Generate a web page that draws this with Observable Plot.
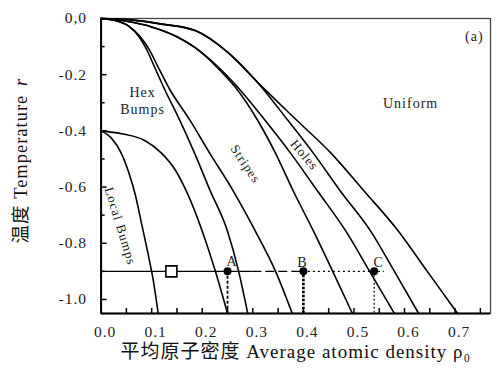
<!DOCTYPE html>
<html><head><meta charset="utf-8">
<script src="https://cdn.jsdelivr.net/npm/d3@7"></script>
<script src="https://cdn.jsdelivr.net/npm/@observablehq/plot@0.6"></script>
<style>
html,body{margin:0;padding:0;background:#fff;}
svg text{letter-spacing:1px;}
</style>
</head><body><div id="chart"></div>
<script>
// Axis ticks
const xTicks = [0, 0.1, 0.2, 0.3, 0.4, 0.5, 0.6, 0.7];
const xTickLabels = ["0.0", "0.1", "0.2", "0.3", "0.4", "0.5", "0.6", "0.7"];
const xTickMarks = [0.05, 0.1, 0.15, 0.2, 0.25, 0.3, 0.35, 0.4, 0.45, 0.5, 0.55, 0.6, 0.65, 0.7, 0.75];
const yTicks = [0, -0.2, -0.4, -0.6, -0.8, -1.0];
const yTickLabels = ["0,0", "-0.2", "-0.4", "-0.6", "-0.8", "-1.0"];
const yMinorTicks = [-0.1, -0.3, -0.5, -0.7, -0.9];

// Phase boundaries [density, temperature]
const localBumpsLeft = [[0,-0.4],[0.02,-0.425],[0.04,-0.48],[0.055,-0.55],[0.068,-0.63],[0.08,-0.73],[0.092,-0.83],[0.103,-0.93],[0.113,-1.05]];
const localBumpsRight = [[0,-0.4],[0.04,-0.41],[0.088,-0.436],[0.12,-0.48],[0.147,-0.54],[0.17,-0.62],[0.2,-0.757],[0.226,-0.9],[0.25,-1.05]];
const hexLeft = [[0,0],[0.03,-0.008],[0.055,-0.028],[0.075,-0.065],[0.09,-0.11],[0.105,-0.17],[0.125,-0.25],[0.155,-0.36],[0.185,-0.48],[0.215,-0.61],[0.25,-0.757],[0.272,-0.9],[0.29,-1.05]];
const hexRight = [[0,0],[0.03,-0.008],[0.055,-0.027],[0.075,-0.06],[0.095,-0.11],[0.112,-0.17],[0.135,-0.25],[0.175,-0.36],[0.215,-0.48],[0.26,-0.61],[0.305,-0.757],[0.345,-0.9],[0.378,-1.05]];
const stripesLeft = [[0,0],[0.05,-0.01],[0.1,-0.03],[0.15,-0.065],[0.186,-0.104],[0.23,-0.175],[0.266,-0.246],[0.31,-0.364],[0.345,-0.48],[0.38,-0.614],[0.42,-0.757],[0.458,-0.9],[0.497,-1.05]];
const stripesRight = [[0,0],[0.05,-0.01],[0.1,-0.03],[0.15,-0.065],[0.186,-0.104],[0.23,-0.17],[0.268,-0.24],[0.325,-0.364],[0.375,-0.48],[0.428,-0.614],[0.484,-0.757],[0.531,-0.9],[0.58,-1.05]];
const holesLeft = [[0,0],[0.06,-0.005],[0.12,-0.02],[0.186,-0.043],[0.25,-0.12],[0.306,-0.221],[0.37,-0.364],[0.42,-0.48],[0.473,-0.614],[0.533,-0.757],[0.58,-0.9],[0.628,-1.05]];
const holesRight = [[0,0],[0.06,-0.005],[0.12,-0.02],[0.186,-0.043],[0.25,-0.12],[0.306,-0.221],[0.388,-0.364],[0.455,-0.48],[0.52,-0.614],[0.588,-0.757],[0.645,-0.9],[0.705,-1.05]];

// Isotherm path and marked states
const isothermT = -0.9;
const solidSegment = [0, 0.3];
const dashedSegment = [0.3, 0.4];
const dottedSegment = [0.4, 0.56];
const squareState = [0.139];
const stateNames = ["A", "B", "C"];
const stateDensities = [0.25, 0.40, 0.54];
const stateLabelX = [0.259, 0.398, 0.549];
const stateLabelT = [-0.866, -0.868, -0.868];

// Region labels
const regionTexts = ["Hex\nBumps", "Uniform", "(a)"];
const regionX = [0.082, 0.612, 0.738];
const regionT = [-0.291, -0.30, -0.061];
const rotTexts = ["Local Bumps", "Stripes", "Holes"];
const rotX = [0.038, 0.2854, 0.402];
const rotT = [-0.739, -0.518, -0.486];
const rotAngles = [73, 56, 50];

const xTitle = "平均原子密度 Average atomic density ρ₀";
const yTitle = "温度 Temperature";
const yTitleVar = "r";

const curves = {localBumpsLeft, localBumpsRight, hexLeft, hexRight, stripesLeft, stripesRight, holesLeft, holesRight};
const rows = [];
for (const [name, pts] of Object.entries(curves)) for (const [x, y] of pts) rows.push({curve: name, x, y});

const states = stateNames.map((n, i) => ({name: n, x: stateDensities[i], y: isothermT, lx: stateLabelX[i], ly: stateLabelT[i]}));
const regions = regionTexts.map((t, i) => ({t, x: regionX[i], y: regionT[i]}));
const rots = rotTexts.map((t, i) => ({t, x: rotX[i], y: rotT[i], r: rotAngles[i]}));

const xMin = 0, xMax = 0.77, yMin = -1.05, yMax = 0;
const serif = "'Liberation Serif', 'Times New Roman', 'Noto Sans CJK SC', serif";

const chart = Plot.plot({
  width: 496, height: 371,
  marginLeft: 100.6, marginRight: 6, marginTop: 18, marginBottom: 58,
  x: {domain: [xMin, xMax], axis: null},
  y: {domain: [yMin, yMax], axis: null},
  style: {fontFamily: serif, background: "white", color: "black"},
  marks: [
    // frame
    Plot.frame({stroke: "#444", strokeWidth: 1.3}),
    Plot.ruleX([xMin], {stroke: "black", strokeWidth: 2}),
    Plot.ruleY([yMin], {stroke: "black", strokeWidth: 2}),
    // inward ticks
    Plot.ruleX(xTickMarks, {x: d => d, y1: yMin, y2: yMin, insetTop: -5, stroke: "black", strokeWidth: 1.5}),
    Plot.ruleY(yTicks, {y: d => d, x1: xMin, x2: xMin, insetRight: -6, stroke: "black", strokeWidth: 1.5}),
    Plot.ruleY(yMinorTicks, {y: d => d, x1: xMin, x2: xMin, insetRight: -4, stroke: "black", strokeWidth: 1.5}),
    // tick labels
    Plot.text(xTicks, {x: d => d, y: yMin, text: (d, i) => xTickLabels[i], dy: 19, dx: 4, fontSize: 15.5, fill: "#222"}),
    Plot.text(yTicks, {x: xMin, y: d => d, text: (d, i) => yTickLabels[i], dx: -14, textAnchor: "end", fontSize: 15.5, fill: "#222"}),
    // axis titles
    Plot.text([xTitle], {frameAnchor: "bottom", text: d => d, dy: 44, fontSize: 19, fill: "#111"}),
    Plot.text([yTitle], {frameAnchor: "left", text: d => d, dx: -80, dy: 77.5, rotate: -90, textAnchor: "start", fontSize: 18.5, fill: "#111"}),
    Plot.text([yTitleVar], {frameAnchor: "left", text: d => d, dx: -80, dy: -80, rotate: -90, textAnchor: "start", fontSize: 18.5, fontStyle: "italic", fill: "#111"}),
    // isotherm
    Plot.ruleY([isothermT], {x1: solidSegment[0], x2: solidSegment[1], stroke: "black", strokeWidth: 1.3}),
    Plot.ruleY([isothermT], {x1: dashedSegment[0], x2: dashedSegment[1], stroke: "black", strokeWidth: 1.3, strokeDasharray: "9,4"}),
    Plot.ruleY([isothermT], {x1: dottedSegment[0], x2: dottedSegment[1], stroke: "black", strokeWidth: 1.3, strokeDasharray: "2,3"}),
    // verticals from states
    Plot.ruleX(states.slice(0,1), {x: "x", y1: isothermT, y2: yMin, stroke: "black", strokeWidth: 1.8, strokeDasharray: "3,2"}),
    Plot.ruleX(states.slice(1,2), {x: "x", y1: isothermT, y2: yMin, stroke: "black", strokeWidth: 2.6, strokeDasharray: "2.5,1.5"}),
    Plot.ruleX(states.slice(2,3), {x: "x", y1: isothermT, y2: yMin, stroke: "black", strokeWidth: 1.2, strokeDasharray: "2,2"}),
    // boundaries
    Plot.line(rows, {x: "x", y: "y", z: "curve", stroke: "black", strokeWidth: 1.6, curve: "monotone-x"}),
    // markers
    Plot.dot(squareState, {x: d => d, y: isothermT, symbol: "square", r: 6.2, fill: "white", stroke: "black", strokeWidth: 1.6}),
    Plot.dot(states, {x: "x", y: "y", r: 4, fill: "black"}),
    Plot.text(states, {x: "lx", y: "ly", text: "name", fontSize: 14, fill: "#222"}),
    // region labels
    Plot.text(regions, {x: "x", y: "y", text: "t", fontSize: 14, lineHeight: 1.2, fill: "#222"}),
    Plot.text(rots, {x: "x", y: "y", text: "t", rotate: "r", fontSize: 13, fill: "#222"})
  ]
});
document.getElementById("chart").appendChild(chart);
</script>
</body></html>
